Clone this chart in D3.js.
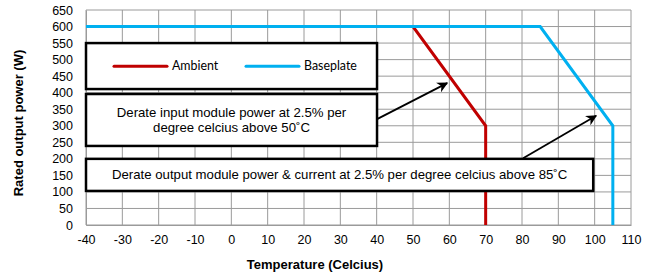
<!DOCTYPE html>
<html>
<head>
<meta charset="utf-8">
<script src="https://cdn.jsdelivr.net/npm/d3@7"></script>
<style>
  body { margin: 0; background: #fff; }
  text { font-family: "Liberation Sans", Arial, sans-serif; fill: #000; }
</style>
</head>
<body>
<svg id="chart" width="658" height="280"></svg>
<script>
// data
const ambientTemp = [-40, 50, 70, 70];
const ambientPower = [600, 600, 300, 0];
const baseplateTemp = [-40, 85, 105, 105];
const baseplatePower = [600, 600, 300, 0];
const xTicks = [-40, -30, -20, -10, 0, 10, 20, 30, 40, 50, 60, 70, 80, 90, 100, 110];
const yTicks = [0, 50, 100, 150, 200, 250, 300, 350, 400, 450, 500, 550, 600, 650];
const seriesNames = ["Ambient", "Baseplate"];
const noteInput = ["Derate input module power at 2.5% per", "degree celcius above 50˚C"];
const noteOutput = ["Derate output module power & current at 2.5% per degree celcius above 85˚C"];

const svg = d3.select("#chart");
const margin = {left: 86, right: 27, top: 10, bottom: 55};
const w = 658 - margin.left - margin.right,
      h = 280 - margin.top - margin.bottom;

const x = d3.scaleLinear().domain([-40, 110]).range([0, w]);
const y = d3.scaleLinear().domain([0, 650]).range([h, 0]);

const defs = svg.append("defs");
defs.append("marker")
  .attr("id", "arrow")
  .attr("viewBox", "0 0 10 10")
  .attr("refX", 9).attr("refY", 5)
  .attr("markerWidth", 6).attr("markerHeight", 6)
  .attr("orient", "auto")
  .append("path")
  .attr("d", "M0,0 L10,5 L0,10 L3,5 Z")
  .attr("fill", "#000");

const g = svg.append("g")
  .attr("transform", `translate(${margin.left},${margin.top})`);

// grid
g.selectAll(".vgrid").data(xTicks).join("line")
  .attr("x1", d => x(d)).attr("x2", d => x(d))
  .attr("y1", 0).attr("y2", h)
  .attr("stroke", "#9a9a9a").attr("stroke-width", 1);
g.selectAll(".hgrid").data(yTicks).join("line")
  .attr("y1", d => y(d)).attr("y2", d => y(d))
  .attr("x1", 0).attr("x2", w)
  .attr("stroke", "#9a9a9a").attr("stroke-width", 1);

// axes
const xAxis = g.append("g")
  .attr("transform", `translate(0,${h})`)
  .call(d3.axisBottom(x).tickValues(xTicks).tickFormat(d => String(d)).tickSize(0).tickPadding(10));
xAxis.select(".domain").attr("stroke", "#9a9a9a");
xAxis.selectAll("text").style("font-size", "12.5px").style("font-family", "Liberation Sans, Arial, sans-serif");

const yAxis = g.append("g")
  .call(d3.axisLeft(y).tickValues(yTicks).tickFormat(d => String(d)).tickSize(0).tickPadding(13));
yAxis.select(".domain").attr("stroke", "#9a9a9a");
yAxis.selectAll("text").style("font-size", "12.5px").style("font-family", "Liberation Sans, Arial, sans-serif");

svg.append("text")
  .attr("x", 315).attr("y", 269)
  .attr("text-anchor", "middle")
  .style("font-size", "13px").style("font-weight", "bold")
  .text("Temperature (Celcius)");

svg.append("text")
  .attr("transform", "translate(23,123) rotate(-90)")
  .attr("text-anchor", "middle")
  .style("font-size", "13px").style("font-weight", "bold")
  .text("Rated output power (W)");

// lines
const line = d3.line().x(d => x(d[0])).y(d => y(d[1]));
const ambient = ambientTemp.map((t, i) => [t, ambientPower[i]]);
const baseplate = baseplateTemp.map((t, i) => [t, baseplatePower[i]]);
const colors = ["#C00000", "#00B0F0"];

g.append("path").datum(ambient).attr("d", line)
  .attr("fill", "none").attr("stroke", colors[0]).attr("stroke-width", 3);
g.append("path").datum(baseplate).attr("d", line)
  .attr("fill", "none").attr("stroke", colors[1]).attr("stroke-width", 3);

// legend box
const lg = g.append("g");
lg.append("rect")
  .attr("x", x(-40)).attr("y", y(550))
  .attr("width", x(40.1) - x(-40)).attr("height", y(411) - y(550))
  .attr("fill", "#fff").attr("stroke", "#000").attr("stroke-width", 2.5);
const legX = [28, 160];
seriesNames.forEach((name, i) => {
  const ly = y(480);
  lg.append("line")
    .attr("x1", legX[i]).attr("x2", legX[i] + 53)
    .attr("y1", ly).attr("y2", ly)
    .attr("stroke", colors[i]).attr("stroke-width", 3).attr("stroke-linecap", "round");
  lg.append("text")
    .attr("x", legX[i] + 58).attr("y", ly + 4)
    .style("font-family", "Lato, Calibri, sans-serif").style("font-size", "12.4px")
    .text(name);
});

// annotation boxes
function noteBox(x0, x1, y0, y1, lines, fs) {
  const bg = g.append("g");
  bg.append("rect")
    .attr("x", x(x0)).attr("y", y(y1))
    .attr("width", x(x1) - x(x0)).attr("height", y(y0) - y(y1))
    .attr("fill", "#fff").attr("stroke", "#000").attr("stroke-width", 2.5);
  const cx = (x(x0) + x(x1)) / 2, cy = (y(y0) + y(y1)) / 2;
  lines.forEach((t, i) => {
    bg.append("text")
      .attr("x", cx)
      .attr("y", cy + (i - (lines.length - 1) / 2) * 15 + 4.5)
      .attr("text-anchor", "middle")
      .style("font-size", fs + "px")
      .text(t);
  });
}
noteBox(-40, 40.1, 239, 396, noteInput, 13.2);
noteBox(-40, 99.6, 103, 200, noteOutput, 13.2);

// arrows
const arrows = [
  {from: [40.1, 320], to: [59.4, 429]},
  {from: [80.3, 202], to: [100.4, 330]}
];
g.selectAll(".arrow").data(arrows).join("line")
  .attr("x1", d => x(d.from[0])).attr("y1", d => y(d.from[1]))
  .attr("x2", d => x(d.to[0])).attr("y2", d => y(d.to[1]))
  .attr("stroke", "#000").attr("stroke-width", 1.8)
  .attr("marker-end", "url(#arrow)");
</script>
</body>
</html>
